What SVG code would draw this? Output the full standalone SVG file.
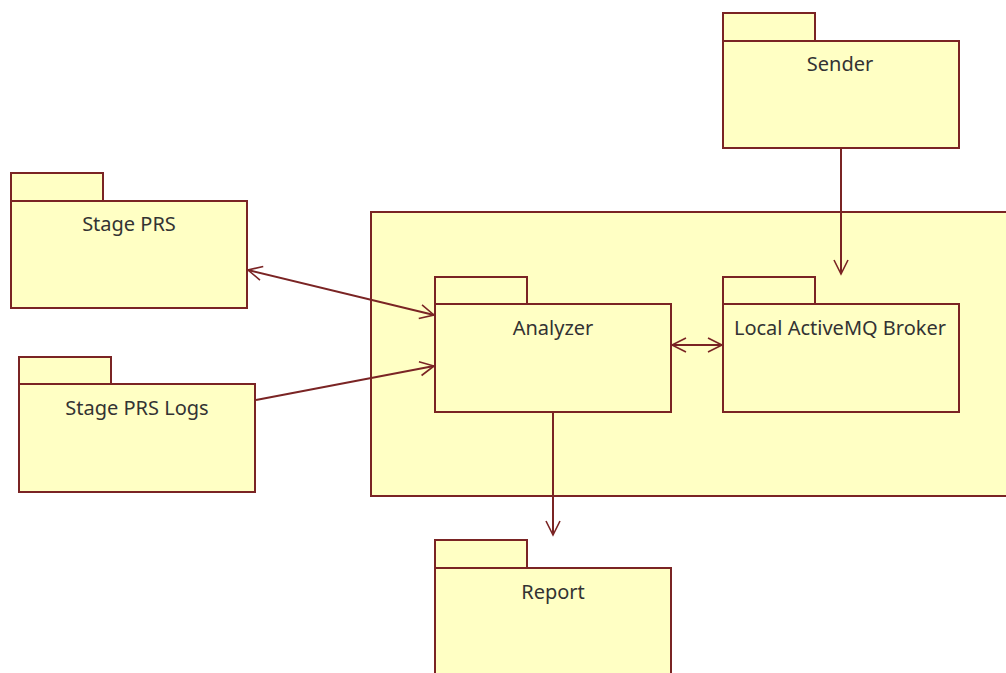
<svg xmlns="http://www.w3.org/2000/svg" width="1006" height="673" viewBox="0 0 1006 673">
  <style>
    .pkg rect { fill: #ffffc4; stroke: #7a2424; stroke-width: 2; }
    .lbl { font-family: "Noto Sans", "DejaVu Sans", sans-serif; font-size: 20px; fill: #333333; text-anchor: middle; }
    .conn { fill: none; stroke: #7a2424; stroke-width: 2; }
  </style>
  <defs>
    <marker id="open" markerUnits="userSpaceOnUse" markerWidth="20" markerHeight="20" viewBox="-16 -10 20 20" refX="0" refY="0" orient="auto-start-reverse">
      <path d="M-14,-7 L0,0 L-14,7" fill="none" stroke="#7a2424" stroke-width="1.6"/>
    </marker>
  </defs>
  <rect width="1006" height="673" fill="#ffffff"/>

  <!-- enclosing package -->
  <g id="container" class="pkg">
    <rect x="371" y="212" width="645" height="284"/>
  </g>

  <g id="sender" class="pkg">
    <rect x="723" y="13" width="92" height="28"/>
    <rect x="723" y="41" width="236" height="107"/>
    <text class="lbl" x="840" y="71">Sender</text>
  </g>

  <g id="stage-prs" class="pkg">
    <rect x="11" y="173" width="92" height="28"/>
    <rect x="11" y="201" width="236" height="107"/>
    <text class="lbl" x="129" y="231">Stage PRS</text>
  </g>

  <g id="stage-prs-logs" class="pkg">
    <rect x="19" y="357" width="92" height="27"/>
    <rect x="19" y="384" width="236" height="108"/>
    <text class="lbl" x="137" y="415">Stage PRS Logs</text>
  </g>

  <g id="analyzer" class="pkg">
    <rect x="435" y="277" width="92" height="27"/>
    <rect x="435" y="304" width="236" height="108"/>
    <text class="lbl" x="553" y="335">Analyzer</text>
  </g>

  <g id="broker" class="pkg">
    <rect x="723" y="277" width="92" height="27"/>
    <rect x="723" y="304" width="236" height="108"/>
    <text class="lbl" x="840" y="335">Local ActiveMQ Broker</text>
  </g>

  <g id="report" class="pkg">
    <rect x="435" y="540" width="92" height="28"/>
    <rect x="435" y="568" width="236" height="120"/>
    <text class="lbl" x="553" y="599">Report</text>
  </g>

  <g id="connectors">
    <line class="conn" x1="841" y1="148" x2="841" y2="274" marker-end="url(#open)"/>
    <line class="conn" x1="248" y1="270" x2="434" y2="315" marker-start="url(#open)" marker-end="url(#open)"/>
    <line class="conn" x1="256" y1="400" x2="434" y2="366" marker-end="url(#open)"/>
    <line class="conn" x1="672" y1="345" x2="722" y2="345" marker-start="url(#open)" marker-end="url(#open)"/>
    <line class="conn" x1="553" y1="412" x2="553" y2="535" marker-end="url(#open)"/>
  </g>
</svg>
